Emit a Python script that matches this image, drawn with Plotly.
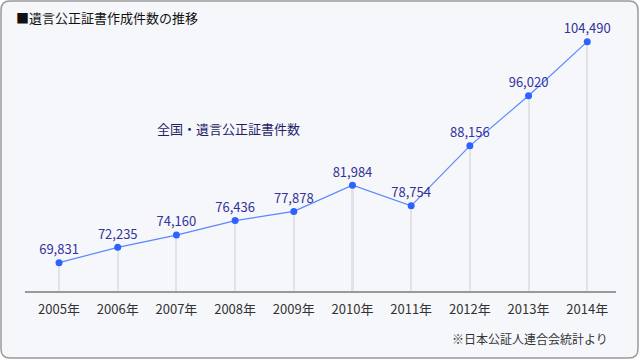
import plotly.graph_objects as go

years = ["2005年", "2006年", "2007年", "2008年", "2009年", "2010年", "2011年", "2012年", "2013年", "2014年"]
counts = [69831, 72235, 74160, 76436, 77878, 81984, 78754, 88156, 96020, 104490]
labels = [f"{v:,}" for v in counts]

W, H = 640, 360
FONT = "Noto Sans CJK JP"
xs = list(range(len(years)))

fig = go.Figure()
# drop lines
fig.add_trace(go.Bar(x=xs, y=counts, width=0.035, marker=dict(color="#e2e3e5", line=dict(width=0)),
                     hoverinfo="skip", showlegend=False))
fig.add_trace(go.Scatter(x=xs, y=counts, mode="lines+markers+text", text=labels,
                         textposition="top center",
                         textfont=dict(family=FONT, size=13, color="#33339a"),
                         line=dict(color="#5b86ff", width=1.2),
                         marker=dict(color="#2e62ff", size=7),
                         showlegend=False, cliponaxis=False))

def px(x):
    return x / W

def py(y):
    return 1 - y / H

# rounded border
x0, y0, x1, y1, r = 1, 1, 638, 358, 9
path = (f"M {px(x0+r)},{py(y0)} L {px(x1-r)},{py(y0)} Q {px(x1)},{py(y0)} {px(x1)},{py(y0+r)} "
        f"L {px(x1)},{py(y1-r)} Q {px(x1)},{py(y1)} {px(x1-r)},{py(y1)} "
        f"L {px(x0+r)},{py(y1)} Q {px(x0)},{py(y1)} {px(x0)},{py(y1-r)} "
        f"L {px(x0)},{py(y0+r)} Q {px(x0)},{py(y0)} {px(x0+r)},{py(y0)} Z")

fig.update_layout(
    width=W, height=H,
    margin=dict(l=0, r=0, t=0, b=0),
    paper_bgcolor="white",
    plot_bgcolor="rgba(0,0,0,0)",
    bargap=0,
    shapes=[dict(type="path", path=path, xref="paper", yref="paper",
                 fillcolor="#f6f7fb", line=dict(color="#9a9a9a", width=1.5), layer="below")],
    xaxis=dict(domain=[px(25), px(616)], range=[-0.58, 9.49], tickmode="array",
               tickvals=xs, ticktext=years, showgrid=False, zeroline=False,
               showline=True, linecolor="#9a9a9a", linewidth=1.5,
               ticks="", ticklabelstandoff=6,
               tickfont=dict(family=FONT, size=13, color="#333333")),
    yaxis=dict(domain=[py(291), py(30)], range=[65393, 106321], visible=False),
    annotations=[
        dict(text="■遺言公正証書作成件数の推移", x=px(14), y=py(17), xref="paper", yref="paper",
             xanchor="left", yanchor="middle", showarrow=False,
             font=dict(family=FONT, size=13, color="#111111")),
        dict(text="全国・遺言公正証書件数", x=px(155), y=py(128), xref="paper", yref="paper",
             xanchor="left", yanchor="middle", showarrow=False,
             font=dict(family=FONT, size=13, color="#1f1f66")),
        dict(text="※日本公証人連合会統計より", x=px(610), y=py(338), xref="paper", yref="paper",
             xanchor="right", yanchor="middle", showarrow=False,
             font=dict(family=FONT, size=12, color="#333333")),
    ],
)

fig.write_html("out.html", config={"displayModeBar": False},
               post_script="document.body.style.margin='0';document.body.style.overflow='hidden';")
